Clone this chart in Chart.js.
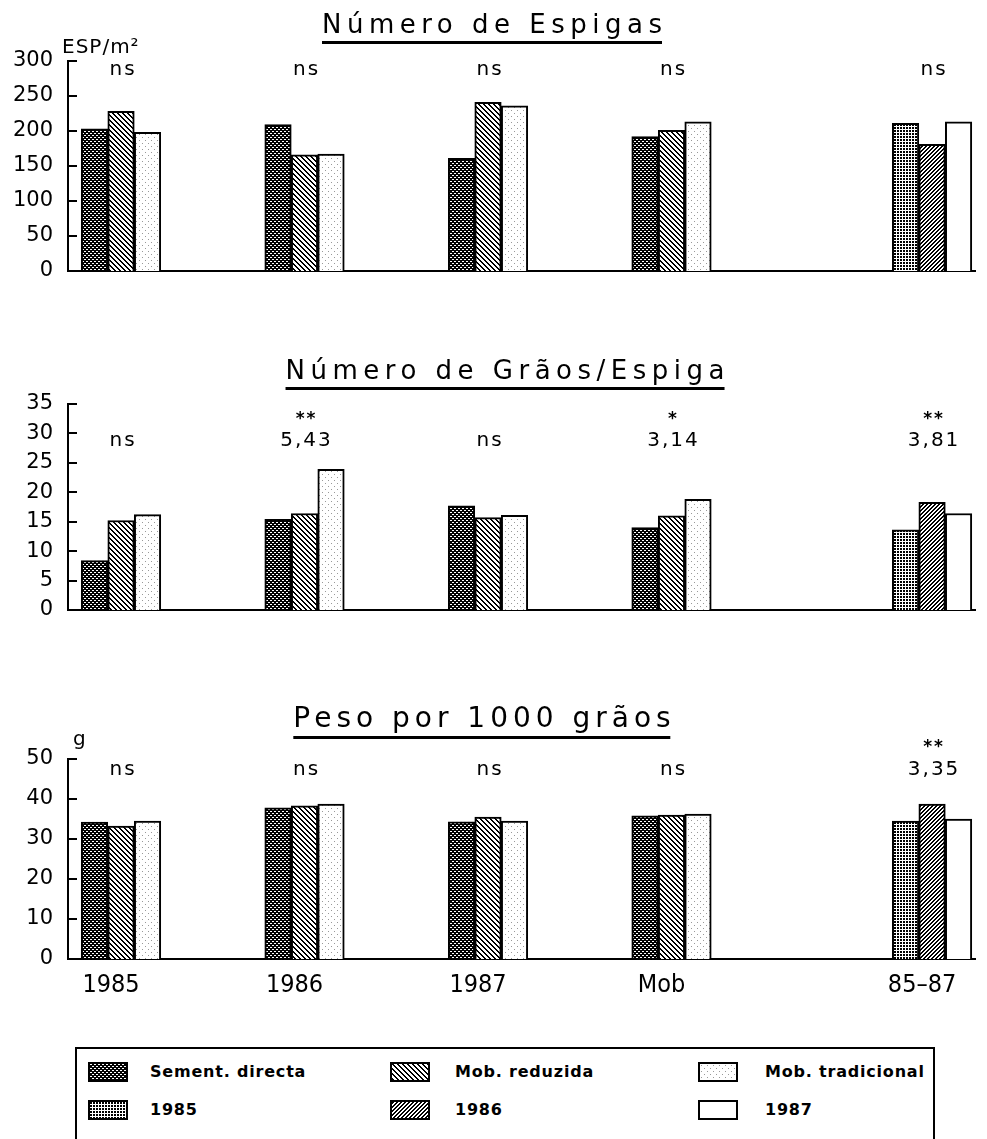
<!DOCTYPE html>
<html lang="pt">
<head>
<meta charset="utf-8">
<title>Número de Espigas, Grãos/Espiga e Peso por 1000 grãos</title>
<script src="https://cdn.jsdelivr.net/npm/chart.js@4.4.1/dist/chart.umd.min.js"></script>
<style>
    html, body { margin: 0; padding: 0; background: #fff; }
    body {
        width: 987px; height: 1139px; position: relative; overflow: hidden;
        font-family: "DejaVu Sans", sans-serif; color: #000;
    }
    canvas.grafico { position: absolute; left: 0; }
    .titulo {
        position: absolute; white-space: nowrap; line-height: 1;
        border-bottom: 3px solid #000; padding-bottom: 4px;
        transform: translateX(-50%); z-index: 2;
    }
    .legenda {
        position: absolute; left: 75px; top: 1047px; width: 856px; height: 130px;
        border: 2px solid #000;
    }
    .amostra { position: absolute; border: 2px solid #000; }
    .rotulo {
        position: absolute; font: bold 16px "DejaVu Sans", sans-serif;
        letter-spacing: 0.8px; white-space: nowrap; line-height: 20px;
    }
</style>
</head>
<body>

<div class="titulo" id="t1" style="left:492px; top:11px; font-size:26px; letter-spacing:5.5px;"></div>
<div class="titulo" id="t2" style="left:505px; top:357px; font-size:26px; letter-spacing:5.5px;"></div>
<div class="titulo" id="t3" style="left:482px; top:704px; font-size:28px; letter-spacing:5px;"></div>

<canvas class="grafico" id="gEspigas" width="987" height="270" style="top:31px"></canvas>
<canvas class="grafico" id="gGraos" width="987" height="266" style="top:374px"></canvas>
<canvas class="grafico" id="gPeso" width="987" height="275" style="top:729px"></canvas>

<div class="legenda" id="legenda"></div>

<script>
// ============== DADOS ==============

const categorias = ['1985', '1986', '1987', 'Mob', '85–87'];
const posicoes = [0, 1, 2, 3, 4.42];   // posição de cada grupo no eixo x

// Número de Espigas (ESP/m²) - grupos 1985, 1986, 1987, Mob
const espigasSementDirecta = [203, 209, 161, 192];
const espigasMobReduzida = [228, 166, 241, 201];
const espigasMobTradicional = [198, 167, 236, 213];
const espigasAnos = [211, 181, 213];       // grupo 85-87: 1985, 1986, 1987
const ticksEspigas = [0, 50, 100, 150, 200, 250, 300];

// Número de Grãos/Espiga
const graosSementDirecta = [8.4, 15.4, 17.7, 14.0];
const graosMobReduzida = [15.2, 16.4, 15.7, 16.0];
const graosMobTradicional = [16.2, 23.9, 16.1, 18.8];
const graosAnos = [13.6, 18.3, 16.4];
const ticksGraos = [0, 5, 10, 15, 20, 25, 30, 35];

// Peso por 1000 grãos (g)
const pesoSementDirecta = [34.2, 37.8, 34.3, 35.8];
const pesoMobReduzida = [33.2, 38.3, 35.5, 36.0];
const pesoMobTradicional = [34.5, 38.7, 34.5, 36.2];
const pesoAnos = [34.5, 38.7, 35.0];
const ticksPeso = [0, 10, 20, 30, 40, 50];

// Significância (F) por grupo
const sigEspigasEstrelas = ['', '', '', '', ''];
const sigEspigasTexto = ['ns', 'ns', 'ns', 'ns', 'ns'];
const sigGraosEstrelas = ['', '**', '', '*', '**'];
const sigGraosTexto = ['ns', '5,43', 'ns', '3,14', '3,81'];
const sigPesoEstrelas = ['', '', '', '', '**'];
const sigPesoTexto = ['ns', 'ns', 'ns', 'ns', '3,35'];

const nomesSeries = ['Sement. directa', 'Mob. reduzida', 'Mob. tradicional', '1985', '1986', '1987'];

// ============== PADRÕES (tramas a preto e branco) ==============

function criarPadrao(tipo) {
    const n = { directa: 4, reduzida: 5, tradicional: 6, a1985: 3, a1986: 4, a1987: 2 }[tipo];
    const c = document.createElement('canvas');
    c.width = n;
    c.height = n;
    const g = c.getContext('2d');
    g.fillStyle = '#fff';
    g.fillRect(0, 0, n, n);
    for (let y = 0; y < n; y++) {
        for (let x = 0; x < n; x++) {
            let cor = null;
            if (tipo === 'directa') cor = (y % 2 === 0 && ((x + y) % 4) < 2) ? null : '#000';
            if (tipo === 'reduzida') cor = ((x - y + n) % n) < 2 ? '#000' : null;
            if (tipo === 'tradicional') cor = ((x === 1 && y === 1) || (x === 4 && y === 4)) ? '#999' : null;
            if (tipo === 'a1985') cor = (x < 2 && y < 2) ? '#000' : null;
            if (tipo === 'a1986') cor = ((x + y) % 4) < 2 ? '#000' : null;
            if (cor) {
                g.fillStyle = cor;
                g.fillRect(x, y, 1, 1);
            }
        }
    }
    return g.createPattern(c, 'repeat');
}

const padroes = ['directa', 'reduzida', 'tradicional', 'a1985', 'a1986', 'a1987'].map(criarPadrao);

// ============== PLUGIN: marcas do eixo, significância e unidade ==============

const marcasPlugin = {
    id: 'marcas',
    afterDraw(chart, args, opts) {
        const { ctx, chartArea, scales } = chart;
        ctx.save();

        // marcas do eixo y viradas para dentro
        ctx.strokeStyle = '#000';
        ctx.lineWidth = 2;
        scales.y.ticks.forEach(t => {
            const y = Math.round(scales.y.getPixelForValue(t.value));
            ctx.beginPath();
            ctx.moveTo(chartArea.left, y);
            ctx.lineTo(chartArea.left + 9, y);
            ctx.stroke();
        });

        // ns / ** / valor de F
        ctx.fillStyle = '#000';
        ctx.textAlign = 'center';
        ctx.textBaseline = 'alphabetic';
        ctx.letterSpacing = '2px';
        opts.texto.forEach((t, i) => {
            const x = scales.x.getPixelForValue(posicoes[i]) + 2;
            if (t) {
                ctx.font = '20px "DejaVu Sans"';
                ctx.fillText(t, x, chartArea.top + opts.dyTexto);
            }
            if (opts.estrelas[i]) {
                ctx.font = 'bold 17px "DejaVu Sans"';
                ctx.fillText(opts.estrelas[i], x, chartArea.top + opts.dyEstrelas);
            }
        });

        // unidade do eixo y
        if (opts.unidade) {
            ctx.textAlign = 'left';
            ctx.letterSpacing = '1px';
            ctx.font = '20px "DejaVu Sans"';
            ctx.fillText(opts.unidade, chartArea.left + opts.dxUnidade, chartArea.top + opts.dyUnidade);
        }
        ctx.restore();
    }
};

// ============== GRÁFICOS ==============

function pontos(valores, inicio) {
    return valores.map((v, i) => ({ x: posicoes[inicio + i], y: v }));
}

function criarGrafico(id, cfg) {
    const series = [
        pontos(cfg.directa, 0), pontos(cfg.reduzida, 0), pontos(cfg.tradicional, 0),
        pontos([cfg.anos[0]], 4), pontos([cfg.anos[1]], 4), pontos([cfg.anos[2]], 4)
    ];
    const pilhas = ['a', 'b', 'c', 'a', 'b', 'c'];

    return new Chart(document.getElementById(id), {
        type: 'bar',
        data: {
            datasets: series.map((d, i) => ({
                label: nomesSeries[i],
                data: d,
                stack: pilhas[i],
                backgroundColor: padroes[i],
                borderColor: '#000',
                borderWidth: 2,
                borderSkipped: 'bottom',
                barThickness: 26.5
            }))
        },
        options: {
            responsive: false,
            animation: false,
            devicePixelRatio: 1,
            layout: { padding: { top: 30, right: 12, bottom: 0, left: 0 } },
            plugins: {
                legend: { display: false },
                tooltip: { enabled: false },
                marcas: {
                    texto: cfg.sigTexto,
                    estrelas: cfg.sigEstrelas,
                    dyTexto: cfg.dyTexto,
                    dyEstrelas: cfg.dyEstrelas,
                    unidade: cfg.unidade,
                    dxUnidade: cfg.dxUnidade,
                    dyUnidade: cfg.dyUnidade
                }
            },
            scales: {
                x: {
                    type: 'linear',
                    offset: false,
                    min: -0.289,
                    max: 4.654,
                    grid: { display: false, drawTicks: false, offset: false },
                    border: { display: true, color: '#000', width: 2 },
                    ticks: {
                        display: cfg.mostrarX,
                        autoSkip: false,
                        maxRotation: 0,
                        padding: 11,
                        labelOffset: -10,
                        color: '#000',
                        font: { family: '"Liberation Sans Narrow", "DejaVu Sans Condensed", sans-serif', size: 25 },
                        callback: (v, i) => categorias[i]
                    },
                    afterBuildTicks: s => { s.ticks = posicoes.map(v => ({ value: v })); },
                    afterFit: s => { s.height = cfg.alturaX; }
                },
                y: {
                    min: 0,
                    max: cfg.ticks[cfg.ticks.length - 1],
                    stacked: false,
                    grid: { display: false, drawTicks: false },
                    border: { display: true, color: '#000', width: 2 },
                    ticks: {
                        color: '#000',
                        padding: 15,
                        font: { family: '"DejaVu Sans"', size: 21 }
                    },
                    afterBuildTicks: s => { s.ticks = cfg.ticks.map(v => ({ value: v })); },
                    afterFit: s => { s.width = 68; }
                }
            }
        },
        plugins: [marcasPlugin]
    });
}

criarGrafico('gEspigas', {
    directa: espigasSementDirecta, reduzida: espigasMobReduzida,
    tradicional: espigasMobTradicional, anos: espigasAnos, ticks: ticksEspigas,
    sigTexto: sigEspigasTexto, sigEstrelas: sigEspigasEstrelas, dyTexto: 14, dyEstrelas: -10,
    unidade: 'ESP/m²', dxUnidade: -6, dyUnidade: -8,
    mostrarX: false, alturaX: 30
});

criarGrafico('gGraos', {
    directa: graosSementDirecta, reduzida: graosMobReduzida,
    tradicional: graosMobTradicional, anos: graosAnos, ticks: ticksGraos,
    sigTexto: sigGraosTexto, sigEstrelas: sigGraosEstrelas, dyTexto: 42, dyEstrelas: 20,
    unidade: '', mostrarX: false, alturaX: 30
});

criarGrafico('gPeso', {
    directa: pesoSementDirecta, reduzida: pesoMobReduzida,
    tradicional: pesoMobTradicional, anos: pesoAnos, ticks: ticksPeso,
    sigTexto: sigPesoTexto, sigEstrelas: sigPesoEstrelas, dyTexto: 16, dyEstrelas: -7,
    unidade: 'g', dxUnidade: 5, dyUnidade: -14,
    mostrarX: true, alturaX: 45
});

// ============== TÍTULOS ==============

function titulo(id, texto) {
    const el = document.getElementById(id);
    el.textContent = texto.slice(0, -1);
    const ultimo = document.createElement('span');
    ultimo.style.letterSpacing = '0';
    ultimo.textContent = texto.slice(-1);
    el.appendChild(ultimo);
}
titulo('t1', 'Número de Espigas');
titulo('t2', 'Número de Grãos/Espiga');
titulo('t3', 'Peso por 1000 grãos');

// ============== LEGENDA ==============

const legenda = document.getElementById('legenda');
const colunas = [{ amostra: 11, texto: 73 }, { amostra: 313, texto: 378 }, { amostra: 621, texto: 688 }];
const linhas = [13, 51];
nomesSeries.forEach((nome, i) => {
    const col = colunas[i % 3];
    const top = linhas[Math.floor(i / 3)];
    const c = document.createElement('canvas');
    c.width = 36;
    c.height = 16;
    c.className = 'amostra';
    c.style.left = col.amostra + 'px';
    c.style.top = top + 'px';
    const g = c.getContext('2d');
    g.fillStyle = padroes[i];
    g.fillRect(0, 0, 36, 16);
    legenda.appendChild(c);

    const t = document.createElement('div');
    t.className = 'rotulo';
    t.style.left = col.texto + 'px';
    t.style.top = top + 'px';
    t.textContent = nome;
    legenda.appendChild(t);
});
</script>
</body>
</html>
